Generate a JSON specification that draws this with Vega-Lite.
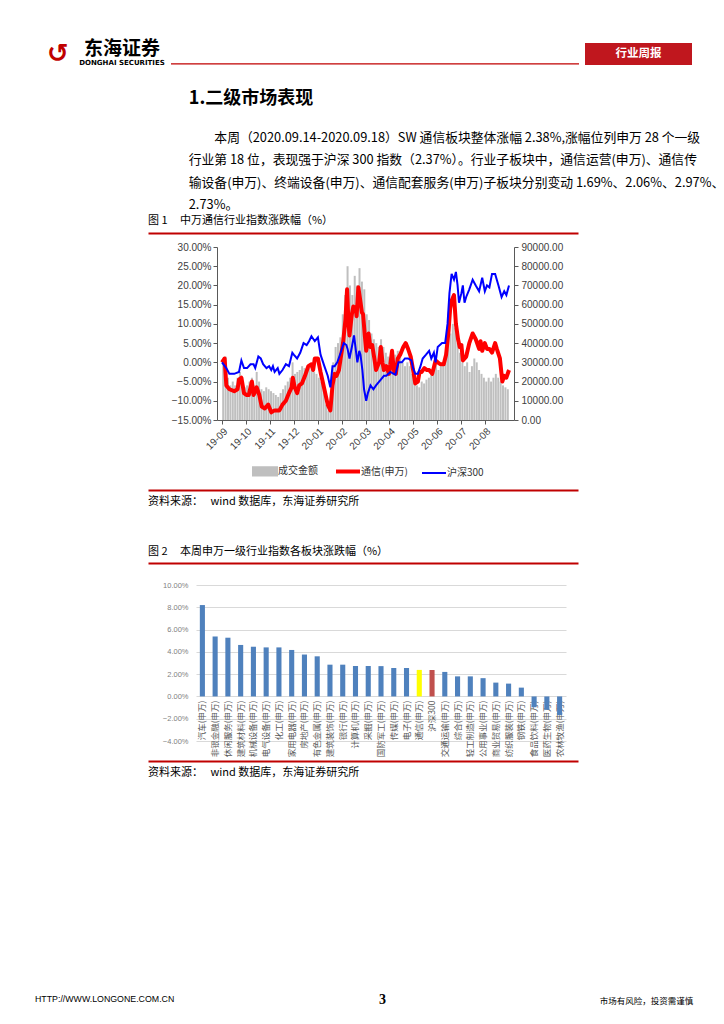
{
"$schema": "https://vega.github.io/schema/vega-lite/v6.json",
"background": "#ffffff",
"padding": {"left": 35, "top": 40, "right": 0, "bottom": 0},
"config": {
  "font": "Noto Sans CJK SC",
  "view": {"stroke": null},
  "title": {"anchor": "start", "fontWeight": "normal", "color": "#000000", "font": "Noto Sans CJK SC"},
  "axis": {"labelFont": "Liberation Sans", "labelColor": "#404040", "domainColor": "#7f7f7f", "tickColor": "#7f7f7f", "grid": false, "labelOverlap": false, "labelBound": false}
},
"datasets": {
  "vol": [
    {"t":0.05,"amount":30000},{"t":0.15,"amount":33000},{"t":0.25,"amount":22000},{"t":0.35,"amount":18000},{"t":0.45,"amount":20000},{"t":0.55,"amount":18000},{"t":0.65,"amount":22000},{"t":0.75,"amount":25000},{"t":0.85,"amount":20000},{"t":0.95,"amount":17000},
    {"t":1.05,"amount":18000},{"t":1.15,"amount":20000},{"t":1.25,"amount":22000},{"t":1.35,"amount":18000},{"t":1.45,"amount":25000},{"t":1.55,"amount":20000},{"t":1.65,"amount":16000},{"t":1.75,"amount":15000},{"t":1.85,"amount":17000},{"t":1.95,"amount":16000},
    {"t":2.05,"amount":15000},{"t":2.15,"amount":14000},{"t":2.25,"amount":13000},{"t":2.35,"amount":12000},{"t":2.45,"amount":14000},{"t":2.55,"amount":16000},{"t":2.65,"amount":18000},{"t":2.75,"amount":20000},{"t":2.85,"amount":22000},{"t":2.95,"amount":30000},
    {"t":3.05,"amount":24000},{"t":3.15,"amount":25000},{"t":3.25,"amount":26000},{"t":3.35,"amount":28000},{"t":3.45,"amount":27000},{"t":3.55,"amount":25000},{"t":3.65,"amount":27000},{"t":3.75,"amount":26000},{"t":3.85,"amount":25000},{"t":3.95,"amount":24000},
    {"t":4.05,"amount":22000},{"t":4.15,"amount":20000},{"t":4.25,"amount":18000},{"t":4.35,"amount":8000},{"t":4.45,"amount":5000},{"t":4.55,"amount":5000},{"t":4.65,"amount":30000},{"t":4.75,"amount":38000},{"t":4.85,"amount":40000},{"t":4.95,"amount":43000},
    {"t":5.05,"amount":55000},{"t":5.15,"amount":65000},{"t":5.25,"amount":80000},{"t":5.35,"amount":70000},{"t":5.45,"amount":65000},{"t":5.55,"amount":75000},{"t":5.65,"amount":70000},{"t":5.75,"amount":79000},{"t":5.85,"amount":72000},{"t":5.95,"amount":68000},
    {"t":6.05,"amount":55000},{"t":6.15,"amount":52000},{"t":6.25,"amount":45000},{"t":6.35,"amount":42000},{"t":6.45,"amount":40000},{"t":6.55,"amount":38000},{"t":6.65,"amount":42000},{"t":6.75,"amount":38000},{"t":6.85,"amount":35000},{"t":6.95,"amount":33000},
    {"t":7.05,"amount":32000},{"t":7.15,"amount":30000},{"t":7.25,"amount":34000},{"t":7.35,"amount":36000},{"t":7.45,"amount":33000},{"t":7.55,"amount":30000},{"t":7.65,"amount":28000},{"t":7.75,"amount":30000},{"t":7.85,"amount":28000},{"t":7.95,"amount":24000},
    {"t":8.05,"amount":20000},{"t":8.15,"amount":18000},{"t":8.25,"amount":17000},{"t":8.35,"amount":20000},{"t":8.45,"amount":19000},{"t":8.55,"amount":21000},{"t":8.65,"amount":22000},{"t":8.75,"amount":25000},{"t":8.85,"amount":26000},{"t":8.95,"amount":30000},
    {"t":9.05,"amount":26000},{"t":9.15,"amount":28000},{"t":9.25,"amount":30000},{"t":9.35,"amount":35000},{"t":9.45,"amount":40000},{"t":9.55,"amount":45000},{"t":9.65,"amount":50000},{"t":9.75,"amount":48000},{"t":9.85,"amount":40000},{"t":9.95,"amount":35000},
    {"t":10.05,"amount":30000},{"t":10.15,"amount":28000},{"t":10.25,"amount":30000},{"t":10.35,"amount":25000},{"t":10.45,"amount":28000},{"t":10.55,"amount":32000},{"t":10.65,"amount":30000},{"t":10.75,"amount":26000},{"t":10.85,"amount":24000},{"t":10.95,"amount":22000},
    {"t":11.05,"amount":20000},{"t":11.15,"amount":22000},{"t":11.25,"amount":20000},{"t":11.35,"amount":22000},{"t":11.45,"amount":24000},{"t":11.55,"amount":22000},{"t":11.65,"amount":20000},{"t":11.75,"amount":18000},{"t":11.85,"amount":17000},{"t":11.95,"amount":16000}
  ],
  "tx": [
    {"t":0,"v":0},{"t":0.11,"v":1},{"t":0.18,"v":-6},{"t":0.31,"v":-7},{"t":0.51,"v":-7.5},{"t":0.65,"v":-7},{"t":0.71,"v":-4.5},{"t":0.81,"v":-4},{"t":0.92,"v":-8},{"t":1.02,"v":-8.5},{"t":1.12,"v":-8.5},{"t":1.25,"v":-5},{"t":1.32,"v":-8.5},{"t":1.39,"v":-7.5},{"t":1.45,"v":-6.5},{"t":1.56,"v":-8.5},{"t":1.66,"v":-11.5},{"t":1.79,"v":-12},{"t":1.93,"v":-11},{"t":2.06,"v":-13},{"t":2.2,"v":-12.5},{"t":2.4,"v":-12.5},{"t":2.53,"v":-11},{"t":2.67,"v":-10},{"t":2.8,"v":-8},{"t":2.91,"v":-6.5},{"t":2.96,"v":-4},{"t":3.04,"v":-6.5},{"t":3.14,"v":-8},{"t":3.23,"v":-6},{"t":3.34,"v":-5.5},{"t":3.47,"v":-3.5},{"t":3.61,"v":-1},{"t":3.74,"v":-0.5},{"t":3.81,"v":-2},{"t":3.88,"v":1},{"t":4.01,"v":1},{"t":4.12,"v":-2.5},{"t":4.28,"v":-7},{"t":4.42,"v":-11},{"t":4.53,"v":-12.5},{"t":4.62,"v":-6},{"t":4.71,"v":-3},{"t":4.79,"v":-3.5},{"t":4.89,"v":-2},{"t":4.96,"v":1},{"t":5.06,"v":5},{"t":5.16,"v":11},{"t":5.23,"v":19},{"t":5.29,"v":10},{"t":5.33,"v":7},{"t":5.43,"v":12.5},{"t":5.49,"v":14.5},{"t":5.59,"v":14},{"t":5.63,"v":12},{"t":5.7,"v":19.5},{"t":5.76,"v":17},{"t":5.85,"v":13},{"t":5.9,"v":12.5},{"t":5.97,"v":7},{"t":6.03,"v":3},{"t":6.13,"v":7.5},{"t":6.2,"v":4},{"t":6.28,"v":4.5},{"t":6.37,"v":1},{"t":6.44,"v":-2},{"t":6.57,"v":0},{"t":6.64,"v":4},{"t":6.71,"v":0},{"t":6.77,"v":-2},{"t":6.87,"v":-1},{"t":6.98,"v":-3},{"t":7.04,"v":-0.5},{"t":7.11,"v":3},{"t":7.18,"v":-2},{"t":7.27,"v":-3},{"t":7.35,"v":1},{"t":7.45,"v":2},{"t":7.58,"v":4},{"t":7.68,"v":5},{"t":7.78,"v":3.5},{"t":7.89,"v":1.5},{"t":7.99,"v":-2},{"t":8.08,"v":-5.5},{"t":8.19,"v":-5},{"t":8.26,"v":-2.5},{"t":8.35,"v":-2.5},{"t":8.46,"v":-1.5},{"t":8.57,"v":-2},{"t":8.66,"v":-2},{"t":8.79,"v":-3},{"t":8.93,"v":0.5},{"t":9.02,"v":0},{"t":9.13,"v":-0.5},{"t":9.27,"v":-0.5},{"t":9.37,"v":2},{"t":9.47,"v":8},{"t":9.54,"v":14},{"t":9.6,"v":16},{"t":9.7,"v":17.5},{"t":9.78,"v":10},{"t":9.87,"v":6},{"t":9.94,"v":4},{"t":10.01,"v":4.5},{"t":10.07,"v":0.5},{"t":10.21,"v":1.5},{"t":10.34,"v":5},{"t":10.48,"v":7.5},{"t":10.61,"v":6},{"t":10.75,"v":3.5},{"t":10.81,"v":5.5},{"t":10.88,"v":3},{"t":10.99,"v":5},{"t":11.08,"v":3.5},{"t":11.18,"v":3.5},{"t":11.29,"v":2.5},{"t":11.42,"v":5},{"t":11.49,"v":3.5},{"t":11.62,"v":1},{"t":11.72,"v":-5},{"t":11.8,"v":-3.5},{"t":11.89,"v":-4},{"t":12,"v":-2}
  ],
  "hs": [
    {"t":0,"v":0},{"t":0.18,"v":-1.5},{"t":0.31,"v":-3},{"t":0.51,"v":-3},{"t":0.71,"v":-2.5},{"t":0.81,"v":0.5},{"t":0.92,"v":-1.5},{"t":1.05,"v":-1.5},{"t":1.19,"v":-0.5},{"t":1.32,"v":-0.5},{"t":1.39,"v":-1.5},{"t":1.52,"v":1.5},{"t":1.62,"v":1},{"t":1.72,"v":-0.5},{"t":1.86,"v":-1.5},{"t":1.97,"v":-1},{"t":2.06,"v":-2},{"t":2.13,"v":-1},{"t":2.2,"v":-2.5},{"t":2.33,"v":-1.5},{"t":2.4,"v":-3},{"t":2.53,"v":-2},{"t":2.67,"v":-0.5},{"t":2.8,"v":-1},{"t":2.94,"v":2.5},{"t":3,"v":2},{"t":3.14,"v":1},{"t":3.27,"v":2.5},{"t":3.41,"v":5},{"t":3.54,"v":4.5},{"t":3.64,"v":5.5},{"t":3.74,"v":6.8},{"t":3.88,"v":5.5},{"t":4.01,"v":6.5},{"t":4.12,"v":2},{"t":4.28,"v":-1},{"t":4.42,"v":-3.5},{"t":4.53,"v":-6.5},{"t":4.62,"v":-1},{"t":4.71,"v":-1},{"t":4.82,"v":0},{"t":4.96,"v":2.5},{"t":5.09,"v":5},{"t":5.2,"v":4.5},{"t":5.25,"v":3.5},{"t":5.33,"v":1},{"t":5.43,"v":4},{"t":5.52,"v":7},{"t":5.6,"v":3},{"t":5.66,"v":0},{"t":5.74,"v":3},{"t":5.79,"v":2},{"t":5.87,"v":-2},{"t":5.94,"v":-7},{"t":6.03,"v":-10},{"t":6.1,"v":-8},{"t":6.21,"v":-6},{"t":6.33,"v":-7},{"t":6.44,"v":-6},{"t":6.64,"v":-4.5},{"t":6.77,"v":-3.5},{"t":6.87,"v":-3.5},{"t":7.04,"v":-2.5},{"t":7.18,"v":-3},{"t":7.25,"v":-3.2},{"t":7.38,"v":0},{"t":7.52,"v":0},{"t":7.65,"v":1},{"t":7.78,"v":1},{"t":7.92,"v":0.5},{"t":7.99,"v":-1.5},{"t":8.08,"v":-3},{"t":8.19,"v":-3},{"t":8.3,"v":-1},{"t":8.39,"v":1},{"t":8.53,"v":2},{"t":8.66,"v":3},{"t":8.75,"v":1},{"t":8.86,"v":2.5},{"t":8.93,"v":0},{"t":9.02,"v":4},{"t":9.2,"v":5},{"t":9.33,"v":5},{"t":9.43,"v":10},{"t":9.51,"v":18},{"t":9.6,"v":23},{"t":9.7,"v":21.5},{"t":9.78,"v":23.5},{"t":9.85,"v":20},{"t":9.91,"v":15.5},{"t":10.01,"v":18},{"t":10.07,"v":20},{"t":10.14,"v":15.5},{"t":10.21,"v":17},{"t":10.34,"v":19},{"t":10.48,"v":21.5},{"t":10.61,"v":20},{"t":10.75,"v":18.5},{"t":10.88,"v":22},{"t":10.99,"v":18.5},{"t":11.08,"v":20},{"t":11.18,"v":19.5},{"t":11.29,"v":23},{"t":11.42,"v":23},{"t":11.56,"v":20},{"t":11.69,"v":17},{"t":11.8,"v":18.5},{"t":11.89,"v":17.5},{"t":12,"v":20}
  ],
  "ind": [
    {"name":"汽车(申万)","v":8.2,"k":"行业"},
    {"name":"非银金融(申万)","v":5.38,"k":"行业"},
    {"name":"休闲服务(申万)","v":5.27,"k":"行业"},
    {"name":"建筑材料(申万)","v":4.62,"k":"行业"},
    {"name":"机械设备(申万)","v":4.46,"k":"行业"},
    {"name":"电气设备(申万)","v":4.4,"k":"行业"},
    {"name":"化工(申万)","v":4.4,"k":"行业"},
    {"name":"家用电器(申万)","v":4.17,"k":"行业"},
    {"name":"房地产(申万)","v":3.76,"k":"行业"},
    {"name":"有色金属(申万)","v":3.6,"k":"行业"},
    {"name":"建筑装饰(申万)","v":2.85,"k":"行业"},
    {"name":"银行(申万)","v":2.85,"k":"行业"},
    {"name":"计算机(申万)","v":2.73,"k":"行业"},
    {"name":"采掘(申万)","v":2.73,"k":"行业"},
    {"name":"国防军工(申万)","v":2.72,"k":"行业"},
    {"name":"传媒(申万)","v":2.55,"k":"行业"},
    {"name":"电子(申万)","v":2.55,"k":"行业"},
    {"name":"通信(申万)","v":2.38,"k":"通信"},
    {"name":"沪深300","v":2.37,"k":"沪深300"},
    {"name":"交通运输(申万)","v":2.2,"k":"行业"},
    {"name":"综合(申万)","v":1.8,"k":"行业"},
    {"name":"轻工制造(申万)","v":1.8,"k":"行业"},
    {"name":"公用事业(申万)","v":1.64,"k":"行业"},
    {"name":"商业贸易(申万)","v":1.24,"k":"行业"},
    {"name":"纺织服装(申万)","v":1.15,"k":"行业"},
    {"name":"钢铁(申万)","v":0.79,"k":"行业"},
    {"name":"食品饮料(申万)","v":-0.97,"k":"行业"},
    {"name":"医药生物(申万)","v":-1.2,"k":"行业"},
    {"name":"农林牧渔(申万)","v":-1.67,"k":"行业"}
  ],
  "line": [{"v": 0}],
  "blank": [{"n": 0}]
},
"title": {"text": "HTTP://WWW.LONGONE.COM.CN", "orient": "bottom", "anchor": "start", "font": "Liberation Sans", "fontSize": 8.8, "offset": -12, "color": "#000000"},
"resolve": {"scale": {"color": "independent"}, "legend": {"color": "independent"}},
"vconcat": [
 {
  "title": {"text": "3", "orient": "bottom", "anchor": "middle", "font": "Liberation Serif", "fontSize": 14, "fontWeight": "bold", "offset": -13, "dx": 3},
  "resolve": {"scale": {"color": "independent"}, "legend": {"color": "independent"}},
  "vconcat": [
   {
    "title": {"text": "市场有风险，投资需谨慎", "orient": "bottom", "anchor": "end", "fontSize": 8.5, "offset": 219, "dx": -31},
    "spacing": 22,
    "resolve": {"scale": {"color": "independent"}, "legend": {"color": "independent"}},
    "vconcat": [
     {
      "spacing": 5,
      "hconcat": [
       {
        "width": 130, "height": 22,
        "data": {"values": [{"cn": "东海证券", "en": "DONGHAI SECURITIES", "logo": "↺"}]},
        "layer": [
          {"mark": {"type": "text", "fontSize": 26, "color": "#c00000", "dx": -42, "dy": 0, "font": "DejaVu Sans", "fontWeight": "bold"}, "encoding": {"text": {"field": "logo"}}},
          {"mark": {"type": "text", "fontSize": 19, "fontWeight": "bold", "dx": 22, "dy": -5, "color": "#000000"}, "encoding": {"text": {"field": "cn"}}},
          {"mark": {"type": "text", "fontSize": 7, "fontWeight": "bold", "dx": 22, "dy": 9, "font": "DejaVu Sans", "color": "#000000"}, "encoding": {"text": {"field": "en"}}}
        ]
       },
       {
        "width": 408, "height": 22,
        "data": {"name": "line"},
        "mark": {"type": "rule", "color": "#c00000", "strokeWidth": 1.2},
        "encoding": {"y": {"field": "v", "type": "quantitative", "scale": {"domain": [-0.05, 1]}, "axis": null}}
       },
       {
        "width": 107, "height": 22,
        "view": {"fill": "#c0171e", "stroke": null},
        "data": {"values": [{"t": "行业周报"}]},
        "mark": {"type": "text", "color": "#ffffff", "fontSize": 11.5, "fontWeight": "bold"},
        "encoding": {"text": {"field": "t"}}
       }
      ]
     },
     {
      "spacing": 5,
      "resolve": {"scale": {"color": "independent"}, "legend": {"color": "independent"}},
      "hconcat": [
       {"width": 101, "height": 1, "data": {"name": "blank"}, "mark": {"type": "point", "opacity": 0}, "encoding": {}},
       {
        "title": {
          "text": "1.二级市场表现",
          "subtitle": [
            "\u200b\u3000\u3000本周（2020.09.14-2020.09.18）SW 通信板块整体涨幅 2.38%,涨幅位列申万 28 个一级",
            "行业第 18 位，表现强于沪深 300 指数（2.37%）。行业子板块中，通信运营(申万)、通信传",
            "输设备(申万)、终端设备(申万)、通信配套服务(申万)子板块分别变动 1.69%、2.06%、2.97%、",
            "2.73%。"
          ],
          "anchor": "start", "dx": 47, "fontSize": 18, "fontWeight": "bold",
          "subtitleFontSize": 12.8, "subtitleColor": "#000000", "subtitleLineHeight": 22.4,
          "subtitlePadding": 24, "offset": 3, "subtitleFont": "Noto Sans CJK SC"
        },
        "spacing": 38,
        "resolve": {"scale": {"color": "independent"}, "legend": {"color": "independent"}},
        "vconcat": [
         {
          "spacing": 0,
          "resolve": {"scale": {"color": "independent"}, "legend": {"color": "independent"}},
          "hconcat": [
           {"width": 1, "height": 1, "data": {"name": "blank"}, "mark": {"type": "point", "opacity": 0}, "encoding": {}},
           {
            "title": {"text": "图 1\u00a0\u00a0\u00a0\u00a0\u00a0中万通信行业指数涨跌幅（%）", "fontSize": 11, "offset": 4},
            "spacing": 6,
            "resolve": {"scale": {"color": "independent"}, "legend": {"color": "independent"}},
            "vconcat": [
             {
              "width": 430, "height": 1,
              "data": {"name": "line"},
              "mark": {"type": "point", "opacity": 0},
              "encoding": {"x": {"field": "v", "type": "quantitative", "scale": {"domain": [0, 1]},
                                 "axis": {"title": null, "labels": false, "ticks": false, "grid": false, "values": [], "domainColor": "#c00000", "domainWidth": 2, "position": -69, "orient": "bottom"}}}
             },
             {
              "width": 297, "height": 173,
              "encoding": {
                "x": {"field": "t", "type": "quantitative", "scale": {"domain": [0, 12], "nice": false, "zero": false},
                      "axis": {"title": null, "values": [0,1,2,3,4,5,6,7,8,9,10,11],
                               "labelExpr": "['19-09','19-10','19-11','19-12','20-01','20-02','20-03','20-04','20-05','20-06','20-07','20-08'][datum.value]",
                               "labelAngle": -45, "labelFontSize": 10, "tickSize": 4, "labelPadding": 2, "labelOverlap": false, "domainColor": "#595959", "tickColor": "#595959"}}
              },
              "layer": [
               {
                "data": {"name": "vol"},
                "mark": {"type": "bar", "size": 2},
                "encoding": {
                  "y": {"field": "amount", "type": "quantitative", "scale": {"domain": [0, 90000], "nice": false},
                        "axis": {"orient": "right", "title": null, "values": [0,10000,20000,30000,40000,50000,60000,70000,80000,90000], "format": ".2f", "labelFontSize": 10, "tickSize": 4, "labelPadding": 3, "labelOverlap": false, "domainColor": "#595959", "tickColor": "#595959"}},
                  "color": {"datum": "成交金额",
                            "scale": {"domain": ["成交金额", "通信(申万)", "沪深300"], "range": ["#bfbfbf", "#ff0000", "#0000ff"]},
                            "legend": {"orient": "none", "legendX": 43, "legendY": 219, "direction": "horizontal", "title": null,
                                       "labelFontSize": 10, "labelFont": "Noto Sans CJK SC", "labelColor": "#333333",
                                       "columnPadding": 10, "symbolSize": 576, "labelOffset": 8,
                                       "encode": {"symbols": {"update": {
                                          "shape": {"signal": "datum.value === '成交金额' ? 'M-1,-0.35H1V0.35H-1Z' : 'stroke'"},
                                          "fill": {"signal": "datum.value === '成交金额' ? '#bfbfbf' : 'transparent'"},
                                          "stroke": {"signal": "datum.value === '成交金额' ? 'transparent' : (datum.value === '通信(申万)' ? '#ff0000' : '#0000ff')"},
                                          "strokeWidth": {"signal": "datum.value === '通信(申万)' ? 4 : 2"},
                                          "opacity": {"value": 1}
                                       }}}}}
                }
               },
               {
                "encoding": {
                  "y": {"field": "v", "type": "quantitative", "scale": {"domain": [-15, 30], "nice": false},
                        "axis": {"orient": "left", "title": null, "values": [-15,-10,-5,0,5,10,15,20,25,30],
                                 "labelExpr": "format(datum.value, '.2f') + '%'", "labelFontSize": 10, "tickSize": 4,
                                 "labelPadding": 2, "minExtent": 68, "labelOverlap": false, "domainColor": "#595959", "tickColor": "#595959"}}
                },
                "layer": [
                 {
                  "data": {"name": "tx"},
                  "mark": {"type": "line", "strokeWidth": 4, "strokeJoin": "round"},
                  "encoding": {"color": {"datum": "通信(申万)"}}
                 },
                 {
                  "data": {"name": "hs"},
                  "mark": {"type": "line", "strokeWidth": 2},
                  "encoding": {"color": {"datum": "沪深300"}}
                 }
                ]
               }
              ],
              "resolve": {"scale": {"y": "independent"}}
             },
             {
              "title": {"text": "资料来源：\u00a0\u00a0\u00a0wind 数据库，东海证券研究所", "orient": "bottom", "anchor": "start", "fontSize": 11, "offset": 4},
              "width": 430, "height": 1,
              "data": {"name": "line"},
              "mark": {"type": "point", "opacity": 0},
              "encoding": {"x": {"field": "v", "type": "quantitative", "scale": {"domain": [0, 1]},
                                 "axis": {"title": null, "labels": false, "ticks": false, "grid": false, "values": [], "domainColor": "#c00000", "domainWidth": 2, "position": -69, "orient": "bottom"}}}
             }
            ]
           }
          ]
         },
         {
          "spacing": 0,
          "resolve": {"scale": {"color": "independent"}, "legend": {"color": "independent"}},
          "hconcat": [
           {"width": 1, "height": 1, "data": {"name": "blank"}, "mark": {"type": "point", "opacity": 0}, "encoding": {}},
           {
            "title": {"text": "图 2\u00a0\u00a0\u00a0\u00a0\u00a0本周申万一级行业指数各板块涨跌幅（%）", "fontSize": 11, "offset": 2.5},
            "spacing": 15,
            "resolve": {"scale": {"color": "independent"}, "legend": {"color": "independent"}},
            "vconcat": [
             {
              "width": 430, "height": 1,
              "data": {"name": "line"},
              "mark": {"type": "point", "opacity": 0},
              "encoding": {"x": {"field": "v", "type": "quantitative", "scale": {"domain": [0, 1]},
                                 "axis": {"title": null, "labels": false, "ticks": false, "grid": false, "values": [], "domainColor": "#c00000", "domainWidth": 2, "position": -48, "orient": "bottom"}}}
             },
             {
              "spacing": 0,
              "resolve": {"scale": {"color": "independent"}, "legend": {"color": "independent"}},
              "vconcat": [
               {
                "width": 370, "height": 156,
                "data": {"name": "ind"},
                "mark": {"type": "bar"},
                "encoding": {
                  "x": {"field": "name", "type": "nominal", "sort": null, "scale": {"paddingInner": 0.6, "paddingOuter": 0.3},
                        "axis": {"title": null, "labelAngle": -90, "labelFontSize": 8.5, "labelColor": "#595959", "labelFont": "Noto Sans CJK SC",
                                 "ticks": false, "domain": false, "offset": -45, "labelPadding": 4, "labelOverlap": false}},
                  "y": {"field": "v", "type": "quantitative", "scale": {"domain": [-4, 10], "nice": false},
                        "axis": {"title": null, "values": [-4,-2,0,2,4,6,8,10], "labelExpr": "format(datum.value, '.2f') + '%'",
                                 "grid": true, "gridColor": "#d9d9d9", "domain": false, "ticks": false,
                                 "labelFontSize": 7.5, "labelColor": "#7f7f7f", "labelPadding": 8, "minExtent": 48}},
                  "color": {"field": "k", "type": "nominal", "scale": {"domain": ["行业", "通信", "沪深300"], "range": ["#4f81bd", "#ffff00", "#c0504d"]}, "legend": null}
                }
               },
               {
                "title": {"text": "资料来源：\u00a0\u00a0\u00a0wind 数据库，东海证券研究所", "orient": "bottom", "anchor": "start", "fontSize": 11, "offset": 4},
                "width": 430, "height": 1,
                "data": {"name": "line"},
                "mark": {"type": "point", "opacity": 0},
                "encoding": {"x": {"field": "v", "type": "quantitative", "scale": {"domain": [0, 1]},
                                   "axis": {"title": null, "labels": false, "ticks": false, "grid": false, "values": [], "domainColor": "#c00000", "domainWidth": 2, "position": -48, "orient": "bottom"}}}
               }
              ]
             }
            ]
           }
          ]
         }
        ]
       }
      ]
     }
    ]
   }
  ]
 }
]
}
